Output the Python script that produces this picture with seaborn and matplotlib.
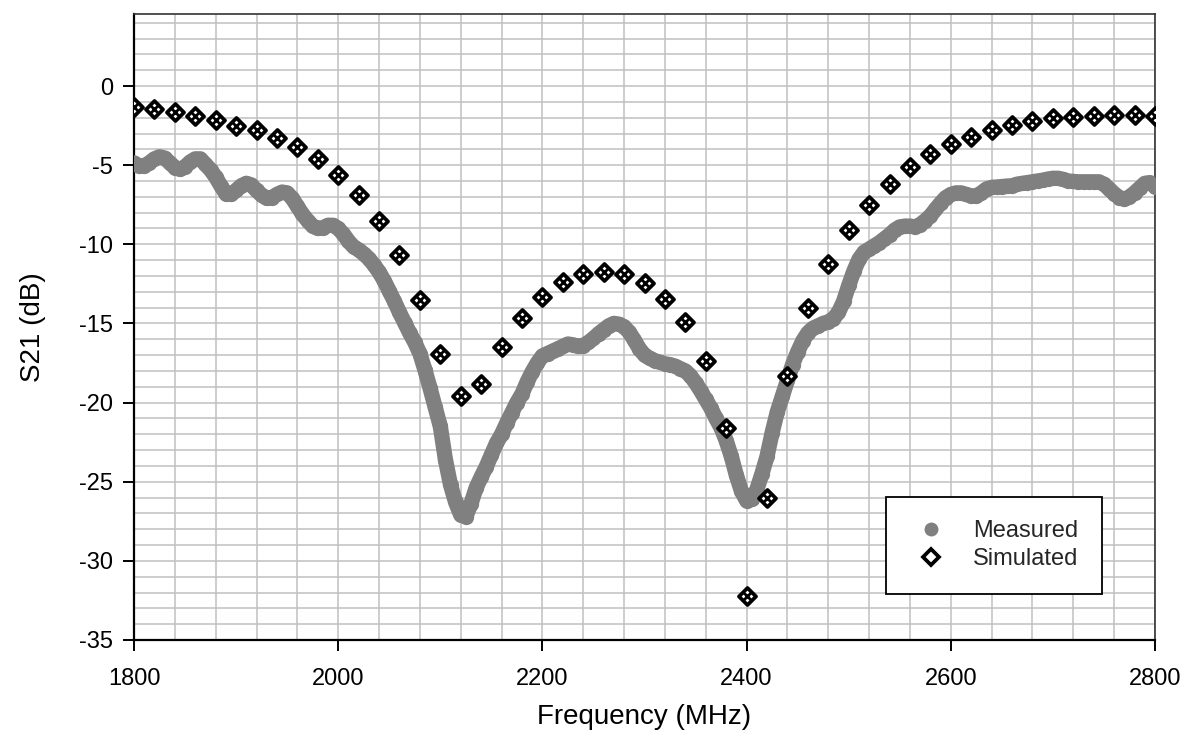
import numpy as np
import pandas as pd
import matplotlib
matplotlib.use("Agg")
import matplotlib.pyplot as plt
from matplotlib.lines import Line2D
from matplotlib.ticker import MultipleLocator
import seaborn as sns

# ---------------- data ----------------
meas_freq = list(range(1800, 2801, 5))
meas_s21 = [
    -4.85, -5.05, -5.05, -4.85, -4.6, -4.47, -4.55, -4.85, -5.15, -5.26,
    -5.1, -4.8, -4.6, -4.6, -4.95, -5.3, -5.75, -6.3, -6.8, -6.85,
    -6.6, -6.3, -6.15, -6.25, -6.6, -6.9, -7.1, -7.05, -6.85, -6.7,
    -6.75, -7.1, -7.6, -8.1, -8.5, -8.85, -9.0, -8.95, -8.8, -8.8,
    -9.0, -9.35, -9.8, -10.15, -10.35, -10.6, -10.9, -11.3, -11.75, -12.3,
    -12.95, -13.6, -14.3, -14.95, -15.6, -16.2, -16.9, -17.95, -19.1, -20.3,
    -21.5, -23.6, -25.2, -26.3, -27.1, -27.2, -26.4, -25.4, -24.7, -24.05,
    -23.3, -22.57, -22.0, -21.3, -20.65, -20.0, -19.45, -18.7, -18.05, -17.5,
    -17.05, -16.9, -16.75, -16.6, -16.45, -16.3, -16.35, -16.45, -16.4, -16.2,
    -15.95, -15.65, -15.4, -15.15, -15.0, -15.05, -15.2, -15.55, -16.05, -16.6,
    -17.0, -17.2, -17.35, -17.45, -17.55, -17.6, -17.7, -17.85, -18.0, -18.3,
    -18.75, -19.25, -19.8, -20.35, -21.0, -21.6, -22.4, -23.4, -24.6, -25.6,
    -26.2, -26.1, -25.5, -24.5, -23.4, -21.9, -20.6, -19.6, -18.6, -17.6,
    -16.8, -16.1, -15.6, -15.3, -15.15, -15.0, -14.9, -14.7, -14.3, -13.6,
    -12.6, -11.7, -10.95, -10.5, -10.3, -10.1, -9.9, -9.65, -9.4, -9.1,
    -8.9, -8.85, -8.85, -8.9, -8.75, -8.5, -8.2, -7.8, -7.4, -7.05,
    -6.85, -6.75, -6.75, -6.85, -6.95, -6.95, -6.75, -6.5, -6.4, -6.38,
    -6.35, -6.32, -6.3, -6.2, -6.15, -6.1, -6.05, -6.0, -5.95, -5.88,
    -5.83, -5.83, -5.9, -6.0, -6.03, -6.05, -6.05, -6.05, -6.05, -6.05,
    -6.2, -6.5, -6.8, -7.05, -7.15, -7.0, -6.75, -6.45, -6.15, -6.1,
    -6.35,
]

sim_freq = list(range(1800, 2801, 20))
sim_s21 = [
    -1.3, -1.45, -1.65, -1.9, -2.15, -2.5, -2.8, -3.3, -3.85, -4.6,
    -5.6, -6.9, -8.5, -10.7, -13.5, -16.9, -19.6, -18.8, -16.5, -14.65,
    -13.3, -12.4, -11.9, -11.75, -11.9, -12.45, -13.45, -14.9, -17.4, -21.6,
    -32.2, -26.0, -18.3, -14.0, -11.25, -9.1, -7.5, -6.2, -5.1, -4.3,
    -3.65, -3.2, -2.8, -2.45, -2.2, -2.05, -1.95, -1.9, -1.85, -1.85,
    -1.9,
]

x_ticks = [1800, 2000, 2200, 2400, 2600, 2800]
y_ticks = [-35, -30, -25, -20, -15, -10, -5, 0]
x_label = "Frequency (MHz)"
y_label = "S21 (dB)"
legend_labels = ["Measured", "Simulated"]

meas_df = pd.DataFrame({"f": meas_freq, "s21": meas_s21})
sim_df = pd.DataFrame({"f": sim_freq, "s21": sim_s21})

# ---------------- style ----------------
sns.set_theme(style="white")
plt.rcParams["font.family"] = ["Liberation Sans", "DejaVu Sans"]
plt.rcParams["axes.unicode_minus"] = False

fig = plt.figure(figsize=(11.84, 7.46), dpi=100)
ax = fig.add_axes([134 / 1184, 1 - 640 / 746, (1155 - 134) / 1184, (640 - 14) / 746])

gray = "#808080"
sns.lineplot(data=meas_df, x="f", y="s21", ax=ax, color=gray, linewidth=11.0,
             marker="o", markersize=11, markeredgewidth=0, zorder=3,
             solid_capstyle="round", solid_joinstyle="round")

sns.scatterplot(data=sim_df, x="f", y="s21", ax=ax, marker="D", s=75,
                facecolor="white", edgecolor="black", linewidth=2.7, zorder=4)
sns.scatterplot(data=sim_df, x="f", y="s21", ax=ax, marker="x", s=28,
                color="black", linewidth=2.0, zorder=5)

ax.set_xlim(1800, 2800)
ax.set_ylim(-35, 4.55)
ax.set_xticks(x_ticks)
ax.set_yticks(y_ticks)
ax.xaxis.set_minor_locator(MultipleLocator(40))
ax.yaxis.set_minor_locator(MultipleLocator(1))
ax.grid(which="both", color="#c0c0c0", linewidth=1.1)
ax.set_axisbelow(True)

for side in ["left", "bottom"]:
    ax.spines[side].set_color("black")
    ax.spines[side].set_linewidth(1.6)
for side in ["top", "right"]:
    ax.spines[side].set_color("#333333")
    ax.spines[side].set_linewidth(1.2)

ax.tick_params(axis="both", which="major", direction="out", length=8, width=1.4,
               color="black", labelsize=17, labelcolor="black",
               bottom=True, left=True)
ax.tick_params(axis="x", which="major", pad=12)
ax.tick_params(axis="y", which="major", pad=7)
ax.tick_params(which="minor", length=0)

ax.set_xlabel(x_label, fontsize=20, color="black", labelpad=10)
ax.set_ylabel(y_label, fontsize=20, color="black", labelpad=24)

handles = [
    Line2D([], [], linestyle="none", marker="o", markersize=10, color=gray, markeredgewidth=0),
    Line2D([], [], linestyle="none", marker="D", markersize=8, markerfacecolor="white",
           markeredgecolor="black", markeredgewidth=2.7),
]
leg = ax.legend(handles, legend_labels, loc="lower right",
                bbox_to_anchor=((1102 - 134) / 1021, (640 - 594) / 626),
                borderaxespad=0, frameon=True, fancybox=False, fontsize=17,
                handlelength=1.8, handletextpad=0.9, borderpad=1.0,
                labelspacing=0.25)
leg.get_frame().set_edgecolor("black")
leg.get_frame().set_linewidth(1.3)
leg.get_frame().set_facecolor("white")
leg.get_frame().set_alpha(1)
leg.set_zorder(10)

fig.savefig("out.png", dpi=100)
